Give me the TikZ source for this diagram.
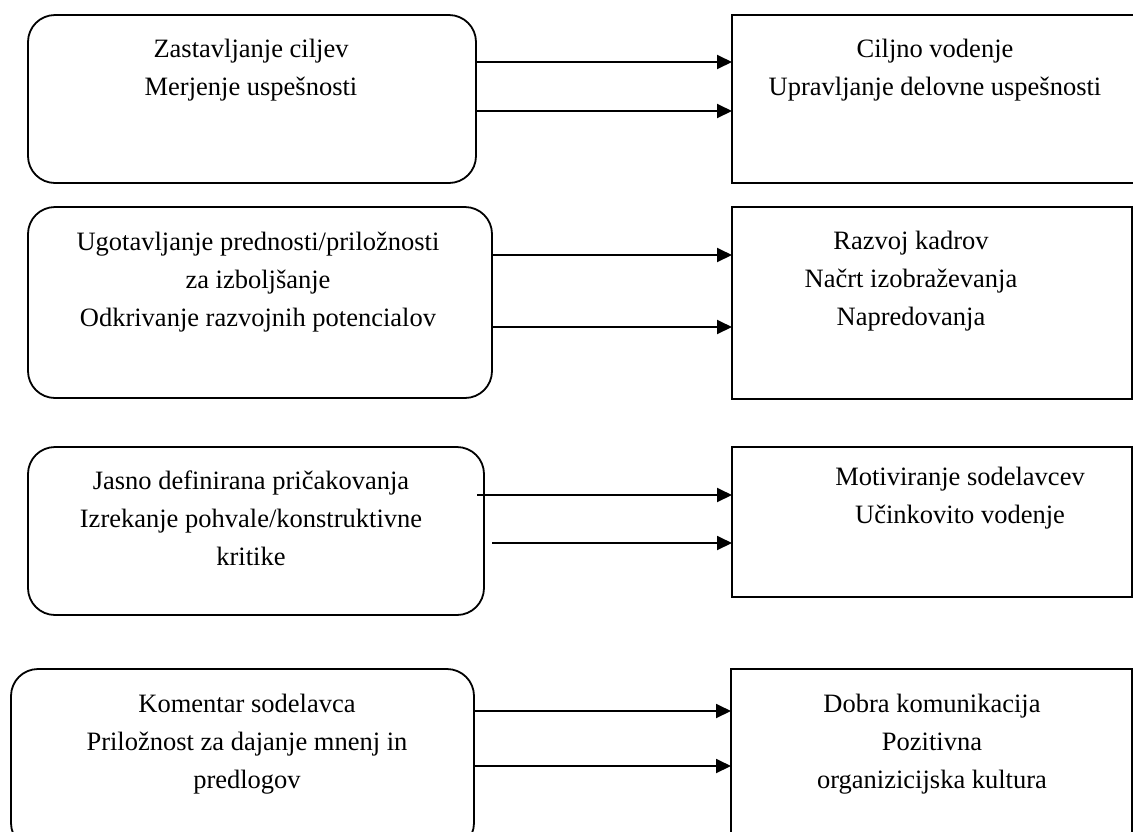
\documentclass[tikz,border=0pt]{standalone}
\usepackage{fontspec}
\setmainfont{Liberation Serif}
\usetikzlibrary{arrows.meta}
\begin{document}
\begin{tikzpicture}[x=1pt,y=-1pt,
  rbox/.style={draw, line width=1.8pt, rounded corners=27pt, inner sep=0pt, outer sep=0pt},
  sbox/.style={draw, line width=1.8pt, inner sep=0pt, outer sep=0pt},
  txt/.style={align=center, font=\fontsize{26.5}{38}\selectfont, anchor=base, inner sep=0pt},
  arr/.style={line width=1.9pt, -{Triangle[length=15pt,width=14pt]}}]
\useasboundingbox (0,0) rectangle (1133,831);
% boxes
\node[rbox, minimum width=448pt, minimum height=168pt] (L1) at (252,99) {};
\node[sbox, minimum width=413pt, minimum height=168pt] (R1) at (938.5,99) {};
\node[rbox, minimum width=464pt, minimum height=191pt] (L2) at (260,302.5) {};
\node[sbox, minimum width=400pt, minimum height=192pt] (R2) at (932,303) {};
\node[rbox, minimum width=456pt, minimum height=168pt] (L3) at (256,531) {};
\node[sbox, minimum width=400pt, minimum height=150pt] (R3) at (932,522) {};
\node[rbox, minimum width=463pt, minimum height=181pt] (L4) at (242.5,759.5) {};
\node[sbox, minimum width=401pt, minimum height=181pt] (R4) at (931.5,759.5) {};
% texts (anchor = baseline of last line)
\node[txt] (T1L) at (251,95) {Zastavljanje ciljev\\Merjenje uspešnosti};
\node[txt] (T1R) at (935,95) {Ciljno vodenje\\Upravljanje delovne uspešnosti};
\node[txt] (T2L) at (258,326) {Ugotavljanje prednosti/priložnosti\\za izboljšanje\\Odkrivanje razvojnih potencialov};
\node[txt] (T2R) at (911,325) {Razvoj kadrov\\Načrt izobraževanja\\Napredovanja};
\node[txt] (T3L) at (251,565) {Jasno definirana pričakovanja\\Izrekanje pohvale/konstruktivne\\kritike};
\node[txt] (T3R) at (960,523) {Motiviranje sodelavcev\\Učinkovito vodenje};
\node[txt] (T4L) at (247,788) {Komentar sodelavca\\Priložnost za dajanje mnenj in\\predlogov};
\node[txt] (T4R) at (932,788) {Dobra komunikacija\\Pozitivna\\organizicijska kultura};
% arrow start points
\coordinate (a11) at (476,62);
\coordinate (a12) at (476,111);
\coordinate (a21) at (492,255);
\coordinate (a22) at (492,327);
\coordinate (a31) at (477,495);
\coordinate (a32) at (492,543);
\coordinate (a41) at (474,711);
\coordinate (a42) at (474,766);
% arrows
\draw[arr] (a11) -- (a11 -| R1.west);
\draw[arr] (a12) -- (a12 -| R1.west);
\draw[arr] (a21) -- (a21 -| R2.west);
\draw[arr] (a22) -- (a22 -| R2.west);
\draw[arr] (a31) -- (a31 -| R3.west);
\draw[arr] (a32) -- (a32 -| R3.west);
\draw[arr] (a41) -- (a41 -| R4.west);
\draw[arr] (a42) -- (a42 -| R4.west);
\end{tikzpicture}
\end{document}
